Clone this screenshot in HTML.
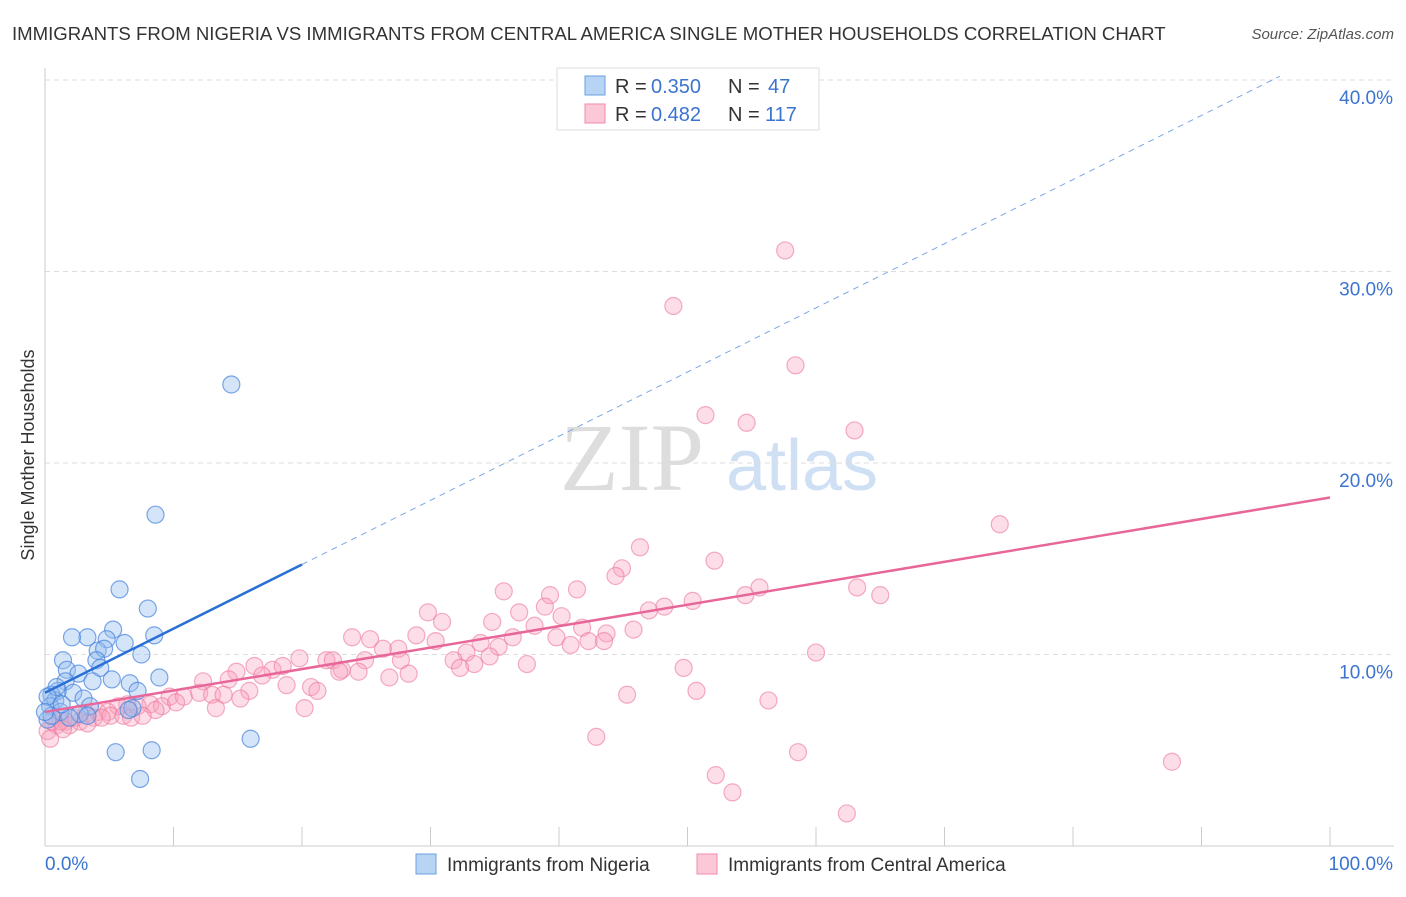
<!DOCTYPE html>
<html><head><meta charset="utf-8"><style>
body{margin:0;background:#fff;font-family:"Liberation Sans",sans-serif}
svg text{font-family:"Liberation Sans",sans-serif}
</style></head><body>
<svg id="chart" width="1406" height="892">
<text x="12" y="40" font-size="18.6" fill="#333">IMMIGRANTS FROM NIGERIA VS IMMIGRANTS FROM CENTRAL AMERICA SINGLE MOTHER HOUSEHOLDS CORRELATION CHART</text>
<text x="1394" y="39" font-size="15" fill="#555" text-anchor="end" font-style="italic">Source: ZipAtlas.com</text>
<g>
<text x="632" y="490" font-size="96" fill="#ddd" text-anchor="middle" style="font-family:'Liberation Serif',serif">ZIP</text>
<text x="802" y="490" font-size="72" fill="#cfe0f5" text-anchor="middle">atlas</text>
</g>
<g id="grid"></g>
<g id="axes"></g>
<g id="pts"></g>
<g id="trends"></g>
<text x="34" y="455" font-size="18" fill="#333" text-anchor="middle" transform="rotate(-90 34 455)">Single Mother Households</text>
<g>
<rect x="557" y="68" width="262" height="62" fill="#fff" stroke="#ddd"/>
<rect x="585" y="76" width="20" height="19" fill="#b8d4f5" stroke="#6aa0e0"/>
<rect x="585" y="104" width="20" height="19" fill="#fbc8d8" stroke="#f08aa8"/>
<text x="615" y="93" font-size="20" fill="#333">R =</text>
<text x="651" y="93" font-size="20" fill="#3b74d0">0.350</text>
<text x="728" y="93" font-size="20" fill="#333">N =</text>
<text x="768" y="93" font-size="20" fill="#3b74d0">47</text>
<text x="615" y="121" font-size="20" fill="#333">R =</text>
<text x="651" y="121" font-size="20" fill="#3b74d0">0.482</text>
<text x="728" y="121" font-size="20" fill="#333">N =</text>
<text x="765" y="121" font-size="20" fill="#3b74d0">117</text>
</g>
<g>
<rect x="416" y="854" width="20" height="20" fill="#b8d4f5" stroke="#6aa0e0"/>
<text x="447" y="871" font-size="19" fill="#333">Immigrants from Nigeria</text>
<rect x="697" y="854" width="20" height="20" fill="#fbc8d8" stroke="#f08aa8"/>
<text x="728" y="871" font-size="19" fill="#333">Immigrants from Central America</text>
</g>
</svg>
<script>
const yTicks=[10,20,30,40];
const yTickLabels=["10.0%","20.0%","30.0%","40.0%"];
const xTickLabels=["0.0%","100.0%"];
const nigeriaX=[14.5,8.6,5.8,8.0,3.3,5.3,2.1,4.8,6.2,8.5,4.1,4.6,7.5,1.4,4.0,1.7,4.3,2.6,8.9,1.6,3.7,5.2,6.6,1.0,2.2,7.2,0.5,0.8,3.0,0.4,3.5,1.2,6.8,2.7,3.3,6.5,0.2,16.0,5.5,8.3,7.4,0.5,1.9,0.9,0.2,0,1.3];
const nigeriaY=[24.1,17.3,13.4,12.4,10.9,11.3,10.9,10.8,10.6,11.0,10.2,10.3,10.0,9.7,9.7,9.2,9.3,9.0,8.8,8.6,8.6,8.7,8.5,8.1,8.0,8.1,7.9,7.6,7.7,7.3,7.3,7.0,7.2,6.9,6.8,7.1,6.6,5.6,4.9,5.0,3.5,6.8,6.7,8.3,7.8,7.0,7.4];
const centralX=[57.6,48.9,58.4,51.4,54.6,63.0,74.3,46.3,52.1,44.9,44.4,35.7,41.4,39.3,55.6,63.2,65.0,54.5,50.4,48.2,47.0,38.9,36.9,40.2,34.8,29.8,30.9,38.1,41.8,43.7,45.8,36.4,39.8,28.9,30.4,33.9,35.3,40.9,42.3,43.5,23.9,25.3,26.3,27.5,32.8,34.6,31.8,33.4,32.3,37.5,49.7,60.0,19.8,21.9,22.4,23.1,24.9,27.7,16.3,17.7,18.5,14.9,16.9,22.9,24.4,26.8,28.3,14.3,12.3,15.9,18.8,20.7,21.2,9.7,10.8,12.0,13.0,13.9,15.2,50.7,45.3,56.3,8.2,9.1,10.2,7.2,6.4,5.7,8.6,13.3,20.2,4.1,4.9,5.1,6.1,3.2,2.3,3.8,4.4,6.7,1.6,2.7,0.9,1.9,1.2,0.2,0.4,42.9,58.6,87.7,52.2,53.5,62.4,0.5,1.4,3.3,7.6];
const centralY=[31.1,28.2,25.1,22.5,22.1,21.7,16.8,15.6,14.9,14.5,14.1,13.3,13.4,13.1,13.5,13.5,13.1,13.1,12.8,12.5,12.3,12.5,12.2,12.0,11.7,12.2,11.7,11.5,11.4,11.1,11.3,10.9,10.9,11.0,10.7,10.6,10.4,10.5,10.7,10.7,10.9,10.8,10.3,10.3,10.1,9.9,9.7,9.5,9.3,9.5,9.3,10.1,9.8,9.7,9.7,9.2,9.7,9.7,9.4,9.2,9.4,9.1,8.9,9.1,9.1,8.8,9.0,8.7,8.6,8.1,8.4,8.3,8.1,7.8,7.8,8.0,7.9,7.9,7.7,8.1,7.9,7.6,7.4,7.3,7.5,7.3,7.4,7.3,7.1,7.2,7.2,7.0,7.0,6.8,6.8,6.9,6.7,6.7,6.7,6.7,6.5,6.5,6.3,6.3,6.5,6.0,5.6,5.7,4.9,4.4,3.7,2.8,1.7,6.5,6.1,6.4,6.8];
const nigeriaTrend=[8.0,41.5];
const centralTrend=[7.0,18.2];
const NS="http://www.w3.org/2000/svg";
const X0=45,X1=1330,YB=846,PX10=19.15;
function sx(v){return X0+(X1-X0)*v/100;}
function sy(v){return YB-v*PX10;}
function mk(tag,attrs,parent){const e=document.createElementNS(NS,tag);for(const k in attrs)e.setAttribute(k,attrs[k]);parent.appendChild(e);return e;}
const grid=document.getElementById('grid'),axes=document.getElementById('axes');
yTicks.forEach((t,i)=>{
 const l=mk('line',{x1:X0,x2:1394,y1:sy(t),y2:sy(t),stroke:'#ddd','stroke-dasharray':'5,4'},grid);
 
 
 const tx=mk('text',{x:1393,y:sy(t)+24,'font-size':19,fill:'#3b74d0','text-anchor':'end'},axes);
 tx.textContent=yTickLabels[i];
 
 
});
const ax=mk('line',{x1:X0,x2:X0,y1:68,y2:YB,stroke:'#ccc'},axes);


const bx=mk('line',{x1:X0,x2:1394,y1:YB,y2:YB,stroke:'#ccc'},axes);


for(let i=0;i<=10;i++){
 const t=mk('line',{x1:sx(i*10),x2:sx(i*10),y1:827,y2:YB,stroke:'#ccc'},axes);
 
 
}
[[0,'start',45],[100,'end',1393]].forEach((d,i)=>{
 const t=mk('text',{x:d[2],y:870,'font-size':19,fill:'#3b74d0','text-anchor':d[1]},axes);
 t.textContent=xTickLabels[i];
 
 
});
const pts=document.getElementById('pts');
centralX.forEach((v,i)=>{
 const c=mk('circle',{cx:sx(v),cy:sy(centralY[i]),r:8.5,fill:'rgba(248,160,188,0.35)',stroke:'rgba(236,120,155,0.6)','stroke-width':1.2},pts);
 
 
});
nigeriaX.forEach((v,i)=>{
 const c=mk('circle',{cx:sx(v),cy:sy(nigeriaY[i]),r:8.5,fill:'rgba(150,190,240,0.4)',stroke:'rgba(70,130,220,0.7)','stroke-width':1.2},pts);
 
 
});
const tr=document.getElementById('trends');
function ny(x){return nigeriaTrend[0]+(nigeriaTrend[1]-nigeriaTrend[0])*x/100;}
function cy(x){return centralTrend[0]+(centralTrend[1]-centralTrend[0])*x/100;}
const nt=mk('line',{x1:sx(0),y1:sy(ny(0)),x2:sx(20),y2:sy(ny(20)),stroke:'#2a6fd6','stroke-width':2.5},tr);


const xe=96.1;
const nd=mk('line',{x1:sx(20),y1:sy(ny(20)),x2:sx(xe),y2:sy(ny(xe)),stroke:'#7aa8e6','stroke-width':1,'stroke-dasharray':'6,5'},tr);


const ct=mk('line',{x1:sx(0),y1:sy(cy(0)),x2:sx(100),y2:sy(cy(100)),stroke:'#e8679a','stroke-width':2.5},tr);


</script>
</body></html>
